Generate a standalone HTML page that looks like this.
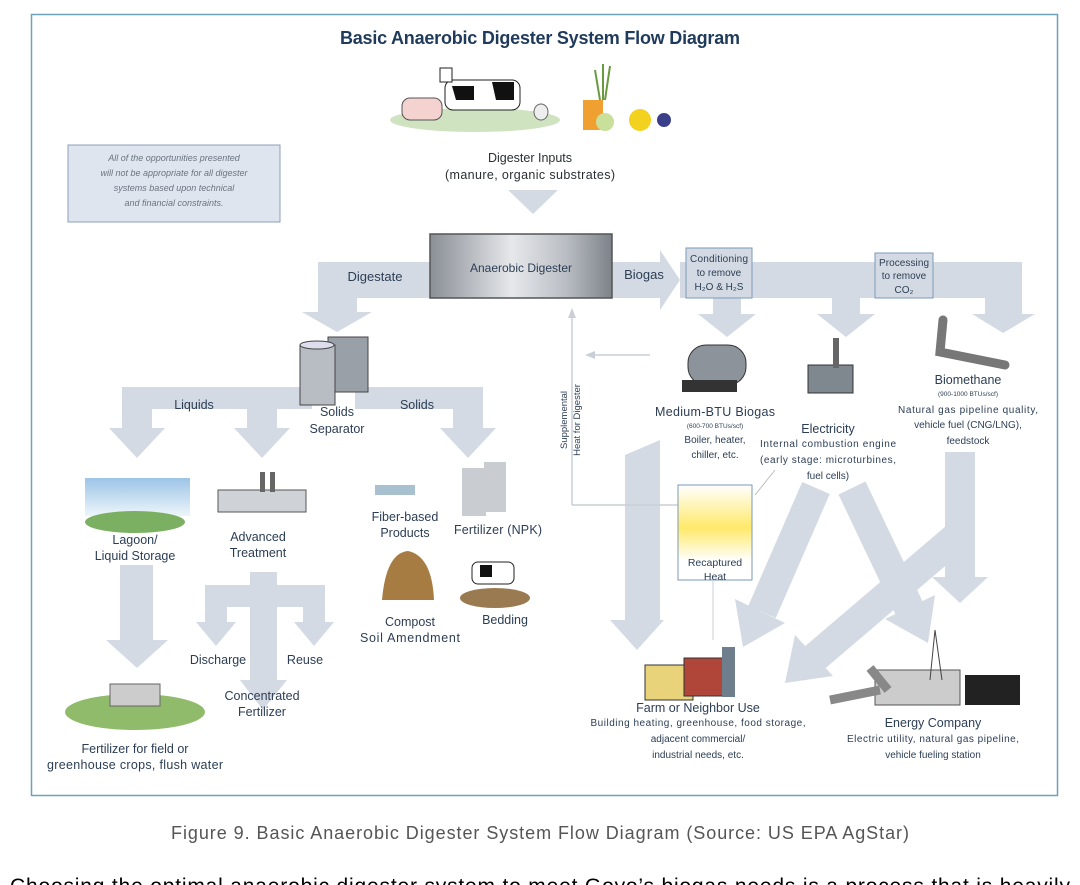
<!DOCTYPE html>
<html><head><meta charset="utf-8"><style>
html,body{margin:0;padding:0;background:#fff;}
svg{display:block;font-family:"Liberation Sans",sans-serif;}
</style></head><body>
<svg width="1080" height="885" viewBox="0 0 1080 885" xmlns="http://www.w3.org/2000/svg">
<defs>
<linearGradient id="dg" x1="0" x2="1" y1="0" y2="0">
<stop offset="0" stop-color="#8a8f96"/><stop offset="0.45" stop-color="#e6e8eb"/><stop offset="0.75" stop-color="#b9bdc3"/><stop offset="1" stop-color="#7d8289"/>
</linearGradient>
<linearGradient id="sky" x1="0" x2="0" y1="0" y2="1"><stop offset="0" stop-color="#9cc4e6"/><stop offset="1" stop-color="#eef5fb"/></linearGradient>
<linearGradient id="heat" x1="0" x2="0" y1="0" y2="1"><stop offset="0" stop-color="#fff"/><stop offset="0.45" stop-color="#ffe96a"/><stop offset="0.8" stop-color="#fff"/></linearGradient>
</defs>
<rect x="31.5" y="14.5" width="1026" height="781" fill="#fff" stroke="#6aa3bb" stroke-width="1.5"/>
<text x="540" y="44" text-anchor="middle" font-size="18" font-weight="bold" fill="#1f3a5a" textLength="400">Basic Anaerobic Digester System Flow Diagram</text>

<g fill="#d4dae3" stroke="none">
<polygon points="508,190 558,190 533,214"/>
<polygon points="318,262 430,262 430,298 357,298 357,312 372,312 337,332 302,312 318,312"/>
<polygon points="612,262 660,262 660,250 680,280 660,310 660,298 612,298"/>
<rect x="680" y="262" width="342" height="36"/>
<polygon points="985,298 1022,298 1022,314 1035,314 1003,333 972,314 985,314"/>
<polygon points="713,298 741,298 741,314 756,314 727,337 698,314 713,314"/>
<polygon points="832,298 860,298 860,314 875,314 846,337 817,314 832,314"/>
<rect x="122" y="387" width="190" height="22"/>
<rect x="355" y="387" width="128" height="22"/>
<polygon points="122,409 152,409 152,428 165,428 137,458 109,428 122,428"/>
<polygon points="247,409 277,409 277,428 290,428 262,458 234,428 247,428"/>
<polygon points="453,409 483,409 483,428 496,428 468,458 440,428 453,428"/>
<polygon points="120,565 153,565 153,640 168,640 137,668 106,640 120,640"/>
<rect x="250" y="572" width="27" height="110"/>
<rect x="205" y="585" width="120" height="22"/>
<rect x="205" y="585" width="22" height="40"/>
<rect x="303" y="585" width="22" height="40"/>
<polygon points="196,622 236,622 216,646"/>
<polygon points="294,622 334,622 314,646"/>
<polygon points="240,680 287,680 263,710"/>
<polygon points="625,455 660,440 660,620 664,620 637,650 610,620 625,620"/>
<rect x="945" y="452" width="30" height="125"/>
<polygon points="932,577 988,577 960,603"/>
</g>
<g stroke="#d4dae3" stroke-width="30" fill="none">
<line x1="816" y1="488" x2="762" y2="612"/>
<line x1="852" y1="488" x2="910" y2="610"/>
<line x1="962" y1="532" x2="812" y2="660"/>
</g>
<g fill="#d4dae3">
<polygon points="785,623 735,599 743,647"/>
<polygon points="935,595 885,619 928,643"/>
<polygon points="833,676 795,635 785,683"/>
</g>

<rect x="68" y="145" width="212" height="77" fill="#dfe5ee" stroke="#8ea0b8"/>
<g font-size="9" font-style="italic" fill="#6b7480" text-anchor="middle">
<text x="174" y="161">All of the opportunities presented</text>
<text x="174" y="176">will not be appropriate for all digester</text>
<text x="174" y="191">systems based upon technical</text>
<text x="174" y="206">and financial constraints.</text>
</g>

<ellipse cx="475" cy="120" rx="85" ry="12" fill="#cfe3c0"/>
<rect x="445" y="80" width="75" height="30" rx="8" fill="#fff" stroke="#222"/>
<path d="M452 86h22v14h-18zM492 82h22v18h-18z" fill="#111"/>
<rect x="440" y="68" width="12" height="14" fill="#fff" stroke="#222"/>
<rect x="402" y="98" width="40" height="22" rx="8" fill="#f3d2d0" stroke="#555"/>
<ellipse cx="541" cy="112" rx="7" ry="8" fill="#eee" stroke="#666"/>
<rect x="583" y="100" width="20" height="30" fill="#f0a030"/>
<circle cx="605" cy="122" r="9" fill="#c9e09a"/>
<circle cx="640" cy="120" r="11" fill="#f2d21e"/>
<circle cx="664" cy="120" r="7" fill="#3a3f8a"/>
<path d="M600 100 L595 70 M605 100 L610 66 M603 100 L603 64" stroke="#6a9a40" stroke-width="2"/>
<g font-size="12.5" fill="#2b2f33" text-anchor="middle">
<text x="530" y="162">Digester Inputs</text>
<text x="530" y="179" textLength="170">(manure, organic substrates)</text>
</g>

<rect x="430" y="234" width="182" height="64" fill="url(#dg)" stroke="#555" stroke-width="1.5"/>
<text x="521" y="272" text-anchor="middle" font-size="12" fill="#2c3e55">Anaerobic Digester</text>
<text x="375" y="281" text-anchor="middle" font-size="13" fill="#2c3e55">Digestate</text>
<text x="644" y="279" text-anchor="middle" font-size="13" fill="#2c3e55">Biogas</text>
<rect x="686" y="248" width="66" height="50" fill="#d4dae3" stroke="#7a9ab8"/>
<g font-size="10" fill="#2c3e55" text-anchor="middle">
<text x="719" y="262" textLength="58">Conditioning</text><text x="719" y="276">to remove</text><text x="719" y="290">H₂O &amp; H₂S</text>
</g>
<rect x="875" y="253" width="58" height="45" fill="#d4dae3" stroke="#7a9ab8"/>
<g font-size="10" fill="#2c3e55" text-anchor="middle">
<text x="904" y="266" textLength="50">Processing</text><text x="904" y="279">to remove</text><text x="904" y="293">CO₂</text>
</g>

<path d="M328 337h40v55h-40z" fill="#9aa0a8" stroke="#444"/>
<path d="M300 345h35v60h-35z" fill="#b8bdc4" stroke="#444"/>
<ellipse cx="317" cy="345" rx="17" ry="4" fill="#dde" stroke="#444"/>
<g font-size="12.5" fill="#2c3e55" text-anchor="middle">
<text x="194" y="409">Liquids</text>
<text x="417" y="409">Solids</text>
<text x="337" y="416">Solids</text>
<text x="337" y="433">Separator</text>
</g>

<path d="M572 505V315 M680 505H572 M650 355H590" stroke="#c8cfd8" stroke-width="1.5" fill="none"/>
<polygon points="572,308 568,318 576,318" fill="#c8cfd8"/>
<polygon points="585,355 595,351 595,359" fill="#c8cfd8"/>
<text transform="translate(567,420) rotate(-90)" text-anchor="middle" font-size="9.5" fill="#2c3e55">Supplemental</text>
<text transform="translate(580,420) rotate(-90)" text-anchor="middle" font-size="9.5" fill="#2c3e55">Heat for Digester</text>

<rect x="688" y="345" width="58" height="40" rx="18" fill="#8d939b" stroke="#333"/>
<rect x="682" y="380" width="55" height="12" fill="#333"/>
<rect x="808" y="365" width="45" height="28" fill="#7f878f" stroke="#333"/>
<rect x="833" y="338" width="6" height="30" fill="#666"/>
<path d="M943 320 L940 352 L1005 365" stroke="#777" stroke-width="9" fill="none" stroke-linecap="round"/>
<g fill="#2c3e55" text-anchor="middle">
<text x="715" y="416" font-size="12.5" textLength="120">Medium-BTU Biogas</text>
<text x="715" y="428" font-size="6.5">(600-700 BTUs/scf)</text>
<text x="715" y="443" font-size="10">Boiler, heater,</text>
<text x="715" y="458" font-size="10">chiller, etc.</text>
<text x="828" y="433" font-size="12.5">Electricity</text>
<text x="828" y="447" font-size="10" textLength="136">Internal combustion engine</text>
<text x="828" y="463" font-size="10" textLength="136">(early stage: microturbines,</text>
<text x="828" y="479" font-size="10">fuel cells)</text>
<text x="968" y="384" font-size="12.5">Biomethane</text>
<text x="968" y="396" font-size="6.5">(900-1000 BTUs/scf)</text>
<text x="968" y="413" font-size="10" textLength="140">Natural gas pipeline quality,</text>
<text x="968" y="428" font-size="10">vehicle fuel (CNG/LNG),</text>
<text x="968" y="444" font-size="10">feedstock</text>
</g>
<path d="M775 470 L755 495" stroke="#bbb" stroke-width="1"/>

<rect x="678" y="485" width="74" height="95" fill="url(#heat)" stroke="#7a9ab8"/>
<text x="715" y="566" text-anchor="middle" font-size="10.5" fill="#2c3e55">Recaptured</text>
<text x="715" y="580" text-anchor="middle" font-size="10.5" fill="#2c3e55">Heat</text>
<path d="M713 580V640" stroke="#c8cfd8"/>

<rect x="645" y="665" width="48" height="35" fill="#e8d27a" stroke="#333"/>
<rect x="684" y="658" width="40" height="38" fill="#b0463a" stroke="#333"/>
<rect x="722" y="647" width="13" height="50" fill="#6f7e8c"/>
<g fill="#2c3e55" text-anchor="middle">
<text x="698" y="712" font-size="12.5">Farm or Neighbor Use</text>
<text x="698" y="726" font-size="10" textLength="215">Building heating, greenhouse, food storage,</text>
<text x="698" y="742" font-size="10">adjacent commercial/</text>
<text x="698" y="758" font-size="10">industrial needs, etc.</text>
<text x="933" y="727" font-size="12.5">Energy Company</text>
<text x="933" y="742" font-size="10" textLength="172">Electric utility, natural gas pipeline,</text>
<text x="933" y="758" font-size="10">vehicle fueling station</text>
</g>
<rect x="875" y="670" width="85" height="35" fill="#ccc" stroke="#555"/>
<path d="M830 700 L880 690 M870 668 L888 690" stroke="#888" stroke-width="9"/>
<path d="M935 630 L930 680 M935 630 L942 680" stroke="#444"/>
<rect x="965" y="675" width="55" height="30" fill="#222"/>

<rect x="85" y="478" width="105" height="38" fill="url(#sky)"/>
<ellipse cx="135" cy="522" rx="50" ry="11" fill="#7bb063"/>
<rect x="218" y="490" width="88" height="22" fill="#cfd3d8" stroke="#555"/>
<rect x="260" y="472" width="5" height="20" fill="#666"/><rect x="270" y="472" width="5" height="20" fill="#666"/>
<rect x="375" y="485" width="40" height="10" fill="#a8c0d0"/>
<rect x="462" y="468" width="24" height="48" fill="#c9cdd2"/><rect x="484" y="462" width="22" height="50" fill="#c9cdd2"/>
<path d="M382 600 Q386 553 408 551 Q432 556 434 600 Z" fill="#a67c42"/>
<ellipse cx="495" cy="598" rx="35" ry="10" fill="#9a7a50"/>
<rect x="472" y="562" width="42" height="22" rx="6" fill="#fff" stroke="#222"/>
<path d="M480 565h12v12h-12z" fill="#111"/>
<ellipse cx="135" cy="712" rx="70" ry="18" fill="#8fbb6a"/>
<rect x="110" y="684" width="50" height="22" fill="#ccc" stroke="#666"/>

<g fill="#2c3e55" text-anchor="middle" font-size="12.5">
<text x="135" y="544">Lagoon/</text><text x="135" y="560">Liquid Storage</text>
<text x="258" y="541">Advanced</text><text x="258" y="557">Treatment</text>
<text x="405" y="521">Fiber-based</text><text x="405" y="537">Products</text>
<text x="498" y="534" textLength="88">Fertilizer (NPK)</text>
<text x="410" y="626">Compost</text><text x="410" y="642" textLength="100">Soil Amendment</text>
<text x="505" y="624">Bedding</text>
<text x="218" y="664">Discharge</text><text x="305" y="664">Reuse</text>
<text x="262" y="700">Concentrated</text><text x="262" y="716">Fertilizer</text>
<text x="135" y="753">Fertilizer for field or</text><text x="135" y="769" textLength="176">greenhouse crops, flush water</text>
</g>

<text x="540" y="839" text-anchor="middle" font-size="18" fill="#555" textLength="738">Figure 9. Basic Anaerobic Digester System Flow Diagram (Source: US EPA AgStar)</text>
<text x="10" y="893" font-size="21" fill="#000" textLength="1060">Choosing the optimal anaerobic digester system to meet Goyo’s biogas needs is a process that is heavily</text>
</svg>
</body></html>
